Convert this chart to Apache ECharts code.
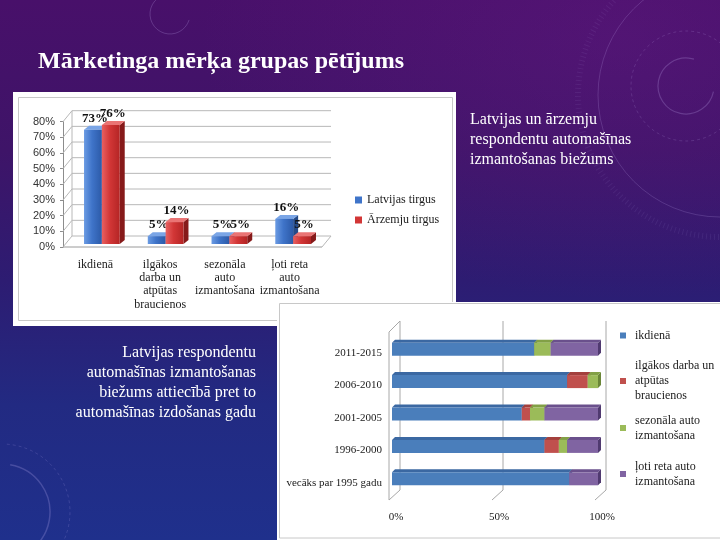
<!DOCTYPE html>
<html>
<head>
<meta charset="utf-8">
<script src="https://cdn.jsdelivr.net/npm/echarts@6/dist/echarts.min.js"></script>
<style>
html,body{margin:0;padding:0;width:720px;height:540px;overflow:hidden;}
body{background:
  radial-gradient(ellipse 420px 260px at 620px 40px, rgba(110,30,140,0.3), rgba(110,30,140,0) 100%),
  linear-gradient(180deg,#48106a 0%,#3e1468 28%,#2d1c72 52%,#222a82 75%,#1f308c 100%);}
#c{width:720px;height:540px;}
</style>
</head>
<body>
<div id="c"></div>
<script>
// ---- Chart 1 data ----
const usageCategories = ['ikdienā', 'ilgākos\ndarba un\natpūtas\nbraucienos', 'sezonāla\nauto\nizmantošana', 'ļoti reta\nauto\nizmantošana'];
const latvianMarket = [73, 5, 5, 16];
const foreignMarket = [76, 14, 5, 5];
const usageTicks = [0, 10, 20, 30, 40, 50, 60, 70, 80];
const marketNames = ['Latvijas tirgus', 'Ārzemju tirgus'];

// ---- Chart 2 data ----
const yearGroups = ['vecāks par 1995 gadu', '1996-2000', '2001-2005', '2006-2010', '2011-2015'];
const dailyUse = [86, 74, 63, 85, 69];
const longTrips = [0, 7, 4, 10, 0];
const seasonalUse = [0, 4, 7, 5, 8];
const rareUse = [14, 15, 26, 0, 23];
const shareTicks = [0, 50, 100];
const usageNames = ['ikdienā', 'ilgākos darba un atpūtas braucienos', 'sezonāla auto izmantošana', 'ļoti reta auto izmantošana'];
const usageLegendText = ['ikdienā', 'ilgākos darba un\natpūtas\nbraucienos', 'sezonāla auto\nizmantošana', 'ļoti reta auto\nizmantošana'];

const chart = echarts.init(document.getElementById('c'), null, {renderer: 'canvas'});
const LG = echarts.graphic.LinearGradient;
const serif = '"Liberation Serif", "Times New Roman", serif';

// chart 1 styles
const bar1Styles = [
  {front: new LG(0, 0, 1, 0, [{offset: 0, color: '#6b9be3'}, {offset: 0.45, color: '#3f74c9'}, {offset: 1, color: '#2c5aa8'}]), side: '#244a88', top: '#7aa5e6', color: '#3f74c9'},
  {front: new LG(0, 0, 1, 0, [{offset: 0, color: '#e86060'}, {offset: 0.45, color: '#d23636'}, {offset: 1, color: '#b42525'}]), side: '#861a1a', top: '#ea7474', color: '#d23636'}
];
const D1 = [5, 4];

function bar1Render(s) {
  return function (params, api) {
    const ci = api.value(0), v = api.value(1);
    const b = api.coord([ci, 0]), t = api.coord([ci, v]);
    const bw = api.size([1, 0])[0] * 0.28;
    const x0 = b[0] - bw + s * bw, x1 = x0 + bw;
    const st = bar1Styles[s];
    return {type: 'group', children: [
      {type: 'polygon', shape: {points: [[x1, t[1]], [x1 + D1[0], t[1] - D1[1]], [x1 + D1[0], b[1] - D1[1]], [x1, b[1]]]}, style: {fill: st.side}},
      {type: 'polygon', shape: {points: [[x0, t[1]], [x0 + D1[0], t[1] - D1[1]], [x1 + D1[0], t[1] - D1[1]], [x1, t[1]]]}, style: {fill: st.top}},
      {type: 'rect', shape: {x: x0, y: t[1], width: bw, height: b[1] - t[1]}, style: {fill: st.front}},
      {type: 'text', z2: 100, style: {text: v + '%', x: (x0 + x1) / 2 + 2, y: t[1] - D1[1] - 1, align: 'center', verticalAlign: 'bottom', font: 'bold 13px ' + serif, fill: '#111'}}
    ]};
  };
}

function wall1Render(params, api) {
  const cs = params.coordSys;
  const v = api.value(1);
  const y = api.coord([0, v])[1];
  const dx = 9, dy = -11;
  const ls = {stroke: '#b8b8b8', lineWidth: 1};
  const ch = [
    {type: 'line', shape: {x1: cs.x, y1: y, x2: cs.x + dx, y2: y + dy}, style: ls},
    {type: 'line', shape: {x1: cs.x + dx, y1: y + dy, x2: cs.x + cs.width + dx, y2: y + dy}, style: ls}
  ];
  if (v === 0) {
    const yTop = api.coord([0, usageTicks[usageTicks.length - 1]])[1];
    ch.push({type: 'line', shape: {x1: cs.x, y1: y, x2: cs.x + cs.width, y2: y}, style: {stroke: '#9a9a9a', lineWidth: 1}});
    ch.push({type: 'line', shape: {x1: cs.x + cs.width, y1: y, x2: cs.x + cs.width + dx, y2: y + dy}, style: ls});
    ch.push({type: 'line', shape: {x1: cs.x + dx, y1: y + dy, x2: cs.x + dx, y2: yTop + dy}, style: ls});
  }
  return {type: 'group', children: ch};
}

// chart 2 styles
const bar2Styles = [
  {front: '#4a7ebb', top: '#3b68a2', side: '#2f568a'},
  {front: '#c0504d', top: '#a3403d', side: '#86312f'},
  {front: '#9bbb59', top: '#82a046', side: '#6a8638'},
  {front: '#8064a2', top: '#6a508c', side: '#503a70'}
];
const stackSeries = [dailyUse, longTrips, seasonalUse, rareUse];
function stackData(k) {
  return yearGroups.map(function (g, i) {
    let s = 0;
    for (let j = 0; j < k; j++) s += stackSeries[j][i];
    return [s, s + stackSeries[k][i], i];
  });
}
function bar2Render(k) {
  return function (params, api) {
    const st0 = api.value(0), en = api.value(1), ci = api.value(2);
    if (!(en > st0)) return null;
    const a = api.coord([st0, ci]), c = api.coord([en, ci]);
    const h = 13, d = 3;
    const top = a[1] - h / 2;
    const S = bar2Styles[k];
    return {type: 'group', children: [
      {type: 'polygon', shape: {points: [[c[0], top], [c[0] + d, top - d], [c[0] + d, top + h - d], [c[0], top + h]]}, style: {fill: S.side}},
      {type: 'polygon', shape: {points: [[a[0], top], [a[0] + d, top - d], [c[0] + d, top - d], [c[0], top]]}, style: {fill: S.top}},
      {type: 'rect', shape: {x: a[0], y: top, width: c[0] - a[0], height: h}, style: {fill: S.front}}
    ]};
  };
}
function wall2Render(params, api) {
  const cs = params.coordSys;
  const v = api.value(0);
  const x = api.coord([v, 0])[0];
  const xf = x - 3, xb = x + 8;
  const backTop = cs.y - 12, backBot = cs.y + cs.height - 5, frontBot = cs.y + cs.height + 5, frontTop = cs.y - 1;
  const ls = {stroke: '#a8a8a8', lineWidth: 1};
  const ch = [
    {type: 'line', shape: {x1: xb, y1: backTop, x2: xb, y2: backBot}, style: ls},
    {type: 'line', shape: {x1: xb, y1: backBot, x2: xf, y2: frontBot}, style: ls}
  ];
  if (v === 0) {
    ch.push({type: 'line', shape: {x1: xf, y1: frontTop, x2: xf, y2: frontBot}, style: ls});
    ch.push({type: 'line', shape: {x1: xf, y1: frontTop, x2: xb, y2: backTop}, style: ls});
  }
  return {type: 'group', children: ch};
}

const series = [
  {type: 'custom', name: 'wall1', xAxisIndex: 1, yAxisIndex: 1, z: 1, silent: true, renderItem: wall1Render,
   data: usageTicks.map(function (v) { return [0, v]; }), encode: {x: 0, y: 1}},
  {type: 'custom', name: marketNames[0], xAxisIndex: 0, yAxisIndex: 0, z: 2, renderItem: bar1Render(0),
   itemStyle: {color: bar1Styles[0].color}, data: latvianMarket.map(function (v, i) { return [i, v]; }), encode: {x: 0, y: 1}},
  {type: 'custom', name: marketNames[1], xAxisIndex: 0, yAxisIndex: 0, z: 3, renderItem: bar1Render(1),
   itemStyle: {color: bar1Styles[1].color}, data: foreignMarket.map(function (v, i) { return [i, v]; }), encode: {x: 0, y: 1}},
  {type: 'custom', name: 'wall2', xAxisIndex: 2, yAxisIndex: 2, z: 1, silent: true, renderItem: wall2Render,
   data: shareTicks.map(function (v) { return [v, 0]; }), encode: {x: 0, y: 1}}
];
usageNames.forEach(function (n, k) {
  series.push({type: 'custom', name: n, xAxisIndex: 2, yAxisIndex: 2, z: 2 + k, renderItem: bar2Render(k),
    itemStyle: {color: bar2Styles[k].front}, data: stackData(k), encode: {x: [0, 1], y: 2}});
});

// legends for chart 2 (one per item, first line aligned with marker)
const legend2Tops = [328, 343.5, 405.5, 451.5];
const legends = [{
  data: marketNames, orient: 'vertical', left: 355, top: 193, itemWidth: 7, itemHeight: 7, itemGap: 6, icon: 'rect', padding: 0,
  selectedMode: false,
  textStyle: {fontFamily: serif, fontSize: 12, color: '#1a1a1a', lineHeight: 14}
}];
usageNames.forEach(function (n, k) {
  const lines = usageLegendText[k].split('\n').length;
  legends.push({
    data: [n], orient: 'vertical', left: 620, top: legend2Tops[k], itemWidth: 6, itemHeight: 6, icon: 'rect', padding: 0,
    selectedMode: false,
    formatter: function (name) { return usageLegendText[usageNames.indexOf(name)]; },
    textStyle: {fontFamily: serif, fontSize: 12, color: '#1a1a1a', lineHeight: 15, padding: [(lines - 1) * 15, 0, 0, 4]}
  });
});

const deco = 'rgba(210,190,255,0.22)';
const option = {
  animation: false,
  backgroundColor: 'transparent',
  grid: [
    {left: 70, top: 118.7, width: 255, height: 125.3},
    {left: 63, top: 121.7, width: 259, height: 125.3},
    {left: 392, top: 333, width: 206, height: 162},
    {left: 396, top: 337, width: 206, height: 162}
  ],
  xAxis: [
    {gridIndex: 0, type: 'category', data: usageCategories, show: false},
    {gridIndex: 1, type: 'category', data: usageCategories, axisLine: {show: false}, axisTick: {show: false}, splitLine: {show: false},
     axisLabel: {interval: 0, margin: 11, fontFamily: serif, fontSize: 12, lineHeight: 13.3, color: '#1a1a1a'}},
    {gridIndex: 2, type: 'value', min: 0, max: 100, show: false},
    {gridIndex: 3, type: 'value', min: 0, max: 100, interval: 50, axisLine: {show: false}, axisTick: {show: false}, splitLine: {show: false},
     axisLabel: {formatter: '{value}%', margin: 13, fontFamily: serif, fontSize: 11, color: '#1a1a1a'}}
  ],
  yAxis: [
    {gridIndex: 0, type: 'value', min: 0, max: 80, show: false},
    {gridIndex: 1, type: 'value', min: 0, max: 80, interval: 10, splitLine: {show: false},
     axisLine: {show: true, lineStyle: {color: '#8c8c8c'}}, axisTick: {show: true, length: 3, lineStyle: {color: '#8c8c8c'}},
     axisLabel: {formatter: '{value}%', margin: 8, fontFamily: '"Liberation Sans", Arial, sans-serif', fontSize: 11, color: '#333'}},
    {gridIndex: 2, type: 'category', data: yearGroups, show: false},
    {gridIndex: 3, type: 'category', data: yearGroups, axisLine: {show: false}, axisTick: {show: false}, splitLine: {show: false},
     axisLabel: {margin: 14, fontFamily: serif, fontSize: 11, color: '#1a1a1a'}}
  ],
  legend: legends,
  graphic: [
    // decorative background arcs
    {type: 'arc', z: -20, shape: {cx: 170, cy: 14, r: 20, startAngle: 0.3, endAngle: 5.2}, style: {stroke: deco, fill: null, lineWidth: 1}},
    {type: 'arc', z: -20, shape: {cx: 686, cy: 86, r: 28, startAngle: 0.2, endAngle: 5.0}, style: {stroke: deco, fill: null, lineWidth: 1.2}},
    {type: 'circle', z: -20, shape: {cx: 686, cy: 86, r: 55}, style: {stroke: 'rgba(210,190,255,0.16)', fill: null, lineWidth: 1, lineDash: [3, 3]}},
    {type: 'circle', z: -20, shape: {cx: 720, cy: 95, r: 122}, style: {stroke: 'rgba(210,190,255,0.18)', fill: null, lineWidth: 1}},
    {type: 'circle', z: -20, shape: {cx: 720, cy: 95, r: 142}, style: {stroke: 'rgba(210,190,255,0.08)', fill: null, lineWidth: 6, lineDash: [1, 3]}},
    {type: 'arc', z: -20, shape: {cx: 2, cy: 512, r: 48, startAngle: -1.4, endAngle: 1.4}, style: {stroke: deco, fill: null, lineWidth: 1.5}},
    {type: 'arc', z: -20, shape: {cx: 2, cy: 512, r: 68, startAngle: -1.5, endAngle: 1.2}, style: {stroke: 'rgba(210,190,255,0.16)', fill: null, lineWidth: 1, lineDash: [3, 3]}},
    // white chart panels
    {type: 'rect', z: -10, shape: {x: 13, y: 92, width: 443, height: 234}, style: {fill: '#ffffff'}},
    {type: 'rect', z: -9, shape: {x: 18.5, y: 97.5, width: 434, height: 223}, style: {fill: null, stroke: '#c8c8c8', lineWidth: 1}},
    {type: 'rect', z: -8, shape: {x: 277, y: 302, width: 443, height: 238}, style: {fill: '#ffffff'}},
    {type: 'rect', z: -7, shape: {x: 279.5, y: 303.5, width: 445, height: 234.5}, style: {fill: null, stroke: '#c8c8c8', lineWidth: 1}},
    // slide texts
    {type: 'text', z: 5, style: {text: 'Mārketinga mērķa grupas pētījums', x: 38, y: 62, verticalAlign: 'middle', font: 'bold 24px ' + serif, fill: '#ffffff'}},
    {type: 'text', z: 5, style: {text: 'Latvijas un ārzemju\nrespondentu automašīnas\nizmantošanas biežums', x: 470, y: 110, verticalAlign: 'top', font: '16px ' + serif, lineHeight: 20, fill: '#ffffff'}},
    {type: 'text', z: 5, style: {text: 'Latvijas respondentu\nautomašīnas izmantošanas\nbiežums attiecībā pret to\nautomašīnas izdošanas gadu', x: 256, y: 343, align: 'right', verticalAlign: 'top', font: '16px ' + serif, lineHeight: 20, fill: '#ffffff'}}
  ],
  series: series
};
chart.setOption(option);
</script>
</body>
</html>
